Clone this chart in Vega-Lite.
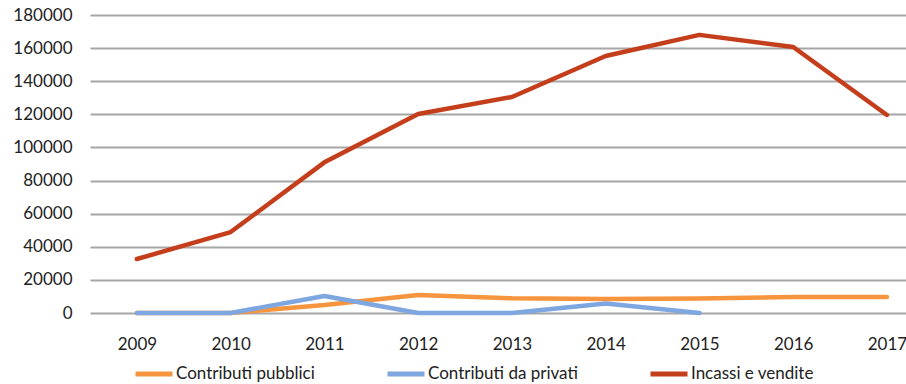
{
  "$schema": "https://vega.github.io/schema/vega-lite/v6.json",
  "width": 816,
  "height": 298,
  "autosize": {"type": "none"},
  "padding": {"left": 90, "top": 15, "right": 0, "bottom": 71},
  "background": "white",
  "config": {
    "view": {"stroke": null},
    "font": "Lato",
    "axis": {"labelFont": "Lato", "labelFontSize": 17, "labelColor": "#222222", "ticks": false, "domain": false, "title": null},
    "legend": {"labelFont": "Lato", "labelFontSize": 17, "labelColor": "#222222"}
  },
  "data": {
    "values": [
      {"anno": 2009, "serie": "Contributi pubblici", "valore": 0},
      {"anno": 2010, "serie": "Contributi pubblici", "valore": 0},
      {"anno": 2011, "serie": "Contributi pubblici", "valore": 4800},
      {"anno": 2012, "serie": "Contributi pubblici", "valore": 10900},
      {"anno": 2013, "serie": "Contributi pubblici", "valore": 8900},
      {"anno": 2014, "serie": "Contributi pubblici", "valore": 8500},
      {"anno": 2015, "serie": "Contributi pubblici", "valore": 8700},
      {"anno": 2016, "serie": "Contributi pubblici", "valore": 9600},
      {"anno": 2017, "serie": "Contributi pubblici", "valore": 9600},
      {"anno": 2009, "serie": "Contributi da privati", "valore": 0},
      {"anno": 2010, "serie": "Contributi da privati", "valore": 0},
      {"anno": 2011, "serie": "Contributi da privati", "valore": 10300},
      {"anno": 2012, "serie": "Contributi da privati", "valore": 0},
      {"anno": 2013, "serie": "Contributi da privati", "valore": 0},
      {"anno": 2014, "serie": "Contributi da privati", "valore": 5800},
      {"anno": 2015, "serie": "Contributi da privati", "valore": 0},
      {"anno": 2009, "serie": "Incassi e vendite", "valore": 32600},
      {"anno": 2010, "serie": "Incassi e vendite", "valore": 48900},
      {"anno": 2011, "serie": "Incassi e vendite", "valore": 91000},
      {"anno": 2012, "serie": "Incassi e vendite", "valore": 120200},
      {"anno": 2013, "serie": "Incassi e vendite", "valore": 130500},
      {"anno": 2014, "serie": "Incassi e vendite", "valore": 155200},
      {"anno": 2015, "serie": "Incassi e vendite", "valore": 168000},
      {"anno": 2016, "serie": "Incassi e vendite", "valore": 160700},
      {"anno": 2017, "serie": "Incassi e vendite", "valore": 119600}
    ]
  },
  "mark": {"type": "line", "strokeWidth": 4.5, "strokeCap": "round", "strokeJoin": "round", "clip": false},
  "encoding": {
    "x": {
      "field": "anno", "type": "quantitative",
      "scale": {"domain": [2008.5, 2017.203], "nice": false, "zero": false},
      "axis": {"values": [2009, 2010, 2011, 2012, 2013, 2014, 2015, 2016, 2017], "format": "d", "grid": false, "labelBaseline": "middle", "labelPadding": 31, "labelFlush": false, "labelOverlap": false}
    },
    "y": {
      "field": "valore", "type": "quantitative",
      "scale": {"domain": [0, 180000], "nice": false},
      "axis": {"values": [0, 20000, 40000, 60000, 80000, 100000, 120000, 140000, 160000, 180000], "format": "d", "grid": true, "gridColor": "#A6A6A6", "gridWidth": 2, "labelPadding": 18, "labelFlush": false}
    },
    "color": {
      "field": "serie", "type": "nominal",
      "scale": {"domain": ["Contributi pubblici", "Contributi da privati", "Incassi e vendite"], "range": ["#F7953E", "#7EA6E0", "#C43E1C"]},
      "legend": {
        "title": null, "orient": "none", "legendX": 43, "legendY": 338, "direction": "horizontal", "columns": 3, "columnPadding": 62,
        "symbolType": "stroke", "symbolSize": 1369, "symbolStrokeWidth": 5, "labelOffset": 1, "labelLimit": 300,
        "encode": {"symbols": {"update": {"strokeWidth": {"value": 5}}}}
      }
    },
    "order": {"field": "anno", "type": "quantitative"}
  }
}
